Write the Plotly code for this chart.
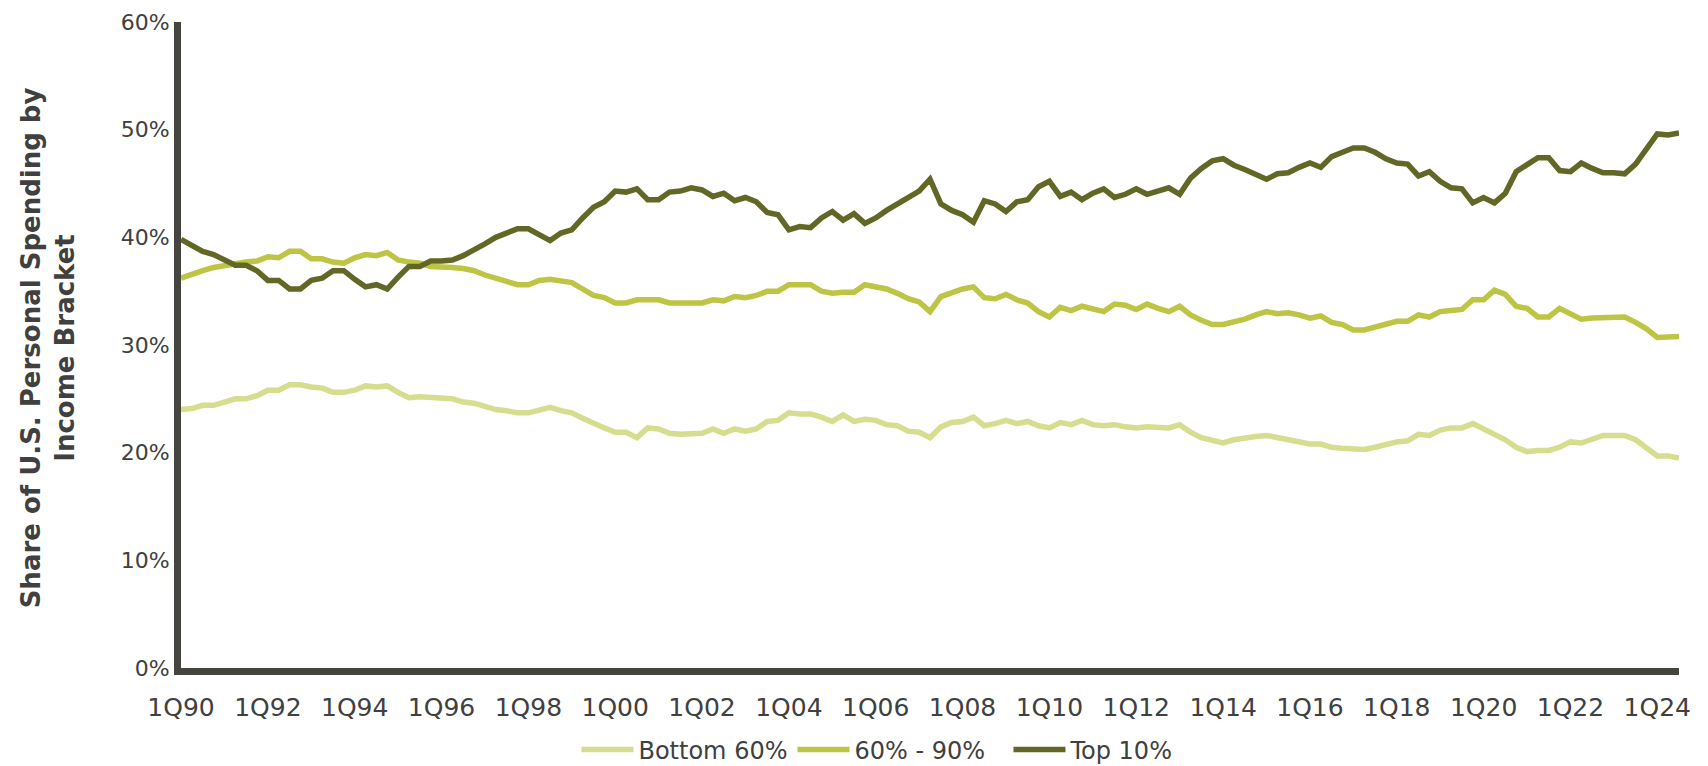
import plotly.graph_objects as go

# ---- data ----
years = list(range(1990, 2025))
quarters = [f"{q}Q{str(y)[2:]}" for y in years for q in range(1, 5)][:139]  # 1Q90 .. 3Q24

tick_labels = ["1Q90", "1Q92", "1Q94", "1Q96", "1Q98", "1Q00", "1Q02", "1Q04", "1Q06",
               "1Q08", "1Q10", "1Q12", "1Q14", "1Q16", "1Q18", "1Q20", "1Q22", "1Q24"]

top10 = [39.8, 39.3, 38.7, 38.4, 37.9, 37.4, 37.4, 36.9, 36.0, 36.0,
         35.2, 35.2, 36.0, 36.2, 36.9, 36.9, 36.1, 35.4, 35.6, 35.2,
         36.3, 37.3, 37.3, 37.8, 37.8, 37.9, 38.3, 38.8, 39.4, 40.0,
         40.4, 40.8, 40.8, 40.3, 39.7, 40.4, 40.7, 41.8, 42.8, 43.3,
         44.3, 44.2, 44.5, 43.5, 43.5, 44.2, 44.3, 44.6, 44.4, 43.8,
         44.1, 43.4, 43.7, 43.3, 42.3, 42.1, 40.7, 41.0, 40.9, 41.8,
         42.4, 41.6, 42.2, 41.3, 41.8, 42.5, 43.1, 43.8, 44.3, 45.4,
         43.1, 42.5, 42.1, 41.4, 43.4, 43.1, 42.4, 43.3, 43.5, 44.7,
         45.2, 43.8, 44.2, 43.5, 44.1, 44.5, 43.7, 44.0, 44.5, 44.0,
         44.3, 44.6, 44.0, 45.5, 46.4, 47.1, 47.3, 46.7, 46.3, 45.8,
         45.4, 45.9, 46.0, 46.5, 46.9, 46.5, 47.5, 47.9, 48.3, 48.3,
         47.9, 47.3, 46.9, 46.8, 45.7, 46.1, 45.2, 44.6, 44.5, 43.2,
         43.7, 43.2, 44.1, 46.1, 46.7, 47.4, 47.4, 46.2, 46.1, 46.9,
         46.4, 46.0, 46.0, 45.9, 46.8, 48.2, 49.6, 49.5, 49.7]

mid30 = [36.2, 36.6, 36.9, 37.2, 37.4, 37.6, 37.7, 37.8, 38.2, 38.1,
         38.7, 38.7, 38.0, 38.0, 37.7, 37.6, 38.1, 38.4, 38.3, 38.6,
         37.9, 37.7, 37.6, 37.3, 37.3, 37.2, 37.1, 36.9, 36.5, 36.2,
         36.0, 35.6, 35.6, 36.0, 36.1, 35.9, 35.8, 35.2, 34.6, 34.4,
         33.9, 33.9, 34.2, 34.2, 34.2, 33.9, 33.9, 33.8, 33.9, 34.2,
         34.1, 34.5, 34.4, 34.6, 35.0, 35.0, 35.6, 35.6, 35.6, 35.0,
         34.8, 34.9, 34.9, 35.6, 35.4, 35.2, 34.8, 34.3, 34.0, 33.1,
         34.5, 34.9, 35.2, 35.4, 34.4, 34.3, 34.7, 34.2, 33.9, 33.1,
         32.6, 33.5, 33.2, 33.6, 33.4, 33.1, 33.8, 33.7, 33.3, 33.8,
         33.4, 33.1, 33.6, 32.8, 32.3, 31.9, 31.9, 32.1, 32.4, 32.8,
         33.1, 32.9, 33.0, 32.8, 32.5, 32.7, 32.1, 31.9, 31.4, 31.4,
         31.7, 31.9, 32.2, 32.2, 32.8, 32.6, 33.1, 33.2, 33.3, 34.2,
         34.2, 35.1, 34.7, 33.6, 33.4, 32.6, 32.6, 33.4, 32.9, 32.4,
         32.5, 32.5, 32.6, 32.6, 32.1, 31.5, 30.7, 30.8, 30.8]

bottom60 = [24.0, 24.1, 24.4, 24.4, 24.7, 25.0, 25.0, 25.3, 25.8, 25.8,
            26.3, 26.3, 26.1, 26.0, 25.6, 25.6, 25.8, 26.2, 26.1, 26.2,
            25.6, 25.1, 25.2, 25.1, 25.0, 25.0, 24.7, 24.6, 24.3, 24.0,
            23.9, 23.7, 23.7, 23.9, 24.2, 23.9, 23.7, 23.2, 22.7, 22.3,
            21.9, 21.9, 21.4, 22.3, 22.2, 21.8, 21.7, 21.7, 21.8, 22.2,
            21.8, 22.2, 22.0, 22.2, 22.9, 23.0, 23.7, 23.6, 23.6, 23.3,
            22.9, 23.5, 22.9, 23.1, 23.0, 22.6, 22.5, 22.0, 21.9, 21.4,
            22.4, 22.8, 22.9, 23.3, 22.5, 22.7, 23.0, 22.7, 22.9, 22.5,
            22.3, 22.8, 22.6, 23.0, 22.6, 22.5, 22.6, 22.4, 22.3, 22.4,
            22.4, 22.3, 22.6, 21.9, 21.4, 21.2, 20.9, 21.2, 21.4, 21.5,
            21.6, 21.4, 21.2, 20.9, 20.8, 20.8, 20.5, 20.4, 20.3, 20.3,
            20.5, 20.8, 21.0, 21.1, 21.7, 21.6, 22.1, 22.3, 22.3, 22.7,
            22.2, 21.8, 21.2, 20.5, 20.1, 20.2, 20.2, 20.5, 21.0, 20.9,
            21.3, 21.6, 21.6, 21.6, 21.2, 20.4, 19.7, 19.7, 19.5]

series_names = ["Bottom 60%", "60% - 90%", "Top 10%"]
series_colors = ["#D6DD8F", "#BEC443", "#636725"]

AXIS = "#45443F"
TEXT = "#404040"
FONT = "DejaVu Sans"

fig = go.Figure()
for name, vals, col in zip(series_names, [bottom60, mid30, top10], series_colors):
    fig.add_trace(go.Scatter(
        x=quarters, y=vals, name=name, mode="lines",
        line=dict(color=col, width=5.5),
        hoverinfo="x+y+name",
    ))

# the page body adds an 8px margin, so the figure is shifted 8px right/down
fig.update_layout(
    width=1700, height=766,
    margin=dict(l=173, r=29, t=14, b=106, autoexpand=False),
    paper_bgcolor="white", plot_bgcolor="white",
    font=dict(family=FONT, color=TEXT, size=22),
    showlegend=True,
    legend=dict(
        orientation="h", x=0.264, xanchor="left", y=-0.1618, yanchor="bottom",
        font=dict(family=FONT, size=24, color=TEXT),
        itemwidth=52,
        entrywidth=149, entrywidthmode="pixels",
        bgcolor="rgba(0,0,0,0)",
    ),
)

fig.update_xaxes(
    type="category", automargin=False,
    range=[0, len(quarters) - 1],
    tickmode="array", tickvals=tick_labels, ticktext=tick_labels,
    showgrid=False, zeroline=False,
    showline=True, linecolor=AXIS, linewidth=7,
    ticks="", ticklabelstandoff=11,
    tickfont=dict(family=FONT, size=25, color=TEXT),
)
fig.update_yaxes(
    range=[0, 60], automargin=False,
    tickmode="array", tickvals=[0, 10, 20, 30, 40, 50, 60],
    ticktext=["0%", "10%", "20%", "30%", "40%", "50%", "60%"],
    showgrid=False, zeroline=False,
    showline=True, linecolor=AXIS, linewidth=7,
    ticks="", ticklabelstandoff=0,
    tickfont=dict(family=FONT, size=22, color=TEXT),
)

fig.add_annotation(
    text="<b>Share of U.S. Personal Spending by<br>Income Bracket</b>",
    xref="paper", yref="paper", x=-0.0887, y=0.495,
    xanchor="center", yanchor="middle", textangle=-90,
    showarrow=False, align="center",
    font=dict(family=FONT, size=26, color=TEXT),
)

fig.write_html("out.html")
